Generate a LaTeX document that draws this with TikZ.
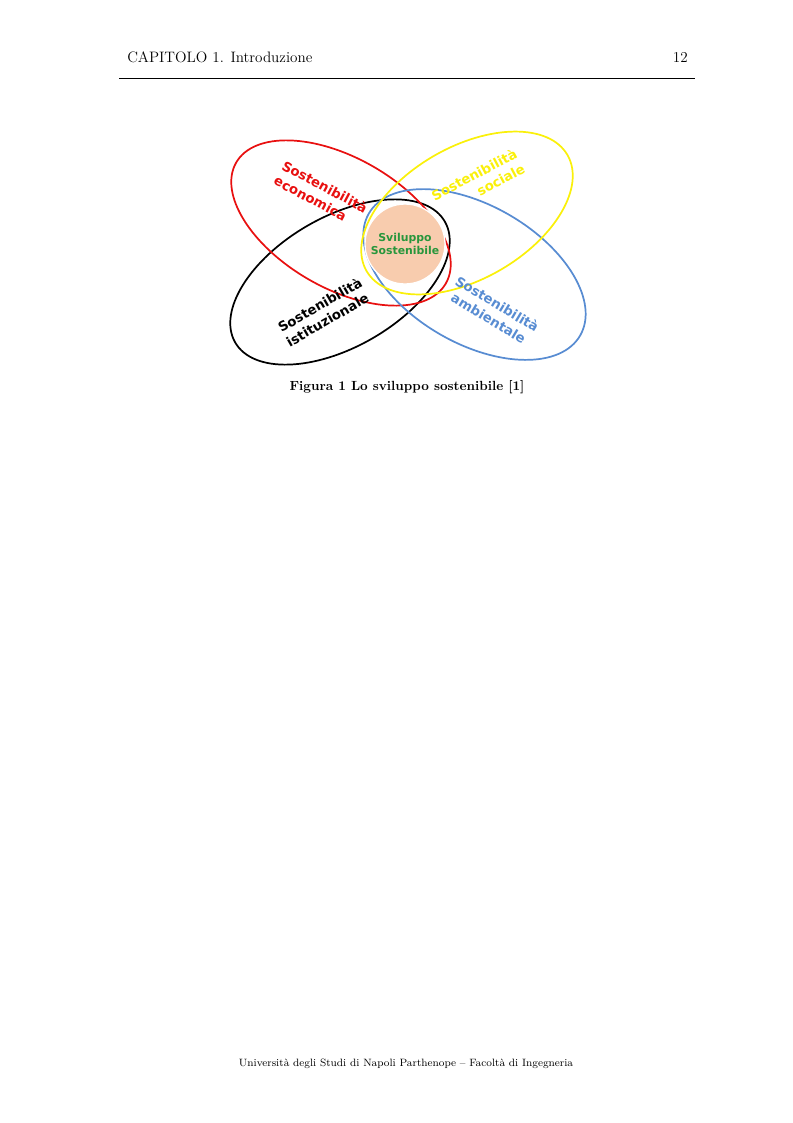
\documentclass[tikz,border=0pt]{standalone}
\usepackage{fontspec}
\usepackage{tikz}
\usetikzlibrary{positioning}
\newfontfamily\verdfont{DejaVu Sans}

\definecolor{ecored}{RGB}{232,16,16}
\definecolor{socyellow}{RGB}{250,240,10}
\definecolor{ambblue}{RGB}{88,140,210}
\definecolor{peach}{RGB}{248,204,174}
\definecolor{svgreen}{RGB}{40,150,60}

\tikzset{
  ring/.style={line width=1.3pt},
  lbl/.style={font=\verdfont\bfseries\fontsize{10}{12.6}\selectfont, inner sep=0pt},
  pagetext/.style={inner sep=0pt}
}

\begin{document}
\begin{tikzpicture}[x=0.0264817cm, y=-0.0264817cm]
        \useasboundingbox (0,0) rectangle (793,1123);
        % Header
        \node[pagetext, anchor=base west, font=\fontsize{11.4}{14}\selectfont] (capo) at (127,62) {CAPITOLO 1. Introduzione};
        \node[pagetext, anchor=base east, font=\fontsize{11.4}{14}\selectfont] (pagina) at (688,62) {12};
        \draw[line width=0.5pt] (119,78) -- (695,78);
        % Ellipses
        \draw[ring, black, rotate around={30:(340,282)}] (340,282) ellipse [x radius=121, y radius=65];
        \draw[ring, ecored, rotate around={-30:(341,223)}] (341,223) ellipse [x radius=121, y radius=65];
        \draw[ring, ambblue, rotate around={-30:(474.5,274.5)}] (474.5,274.5) ellipse [x radius=122, y radius=69];
        \draw[ring, socyellow, rotate around={30:(467,213)}] (467,213) ellipse [x radius=116, y radius=66];
        % Centre
        \node[circle, fill=peach, draw=white, line width=1pt, minimum size=80*0.0264817cm, inner sep=0pt,
              font=\verdfont\bfseries\fontsize{8.2}{10}\selectfont, text=svgreen, align=center] (sviluppo) at (405,244) {Sviluppo\\Sostenibile};
        % Labels
        \node[lbl, text=ecored, rotate=-28, align=left] (economica) at (321,194) {Sostenibilità\\economica};
        \node[lbl, text=socyellow, rotate=28, align=right] (sociale) at (478,182) {Sostenibilità\\sociale};
        \node[lbl, text=black, rotate=30, align=left] (istituzionale) at (324,312) {Sostenibilità\\istituzionale};
        \node[lbl, text=ambblue, rotate=-31, align=center] (ambientale) at (493,311) {Sostenibilità\\ambientale};
        % Caption and footer
        \node[pagetext, anchor=base, font=\bfseries\fontsize{10}{12}\selectfont] (didascalia) at (407,390) {Figura 1 Lo sviluppo sostenibile [1]};
        \node[pagetext, anchor=base, font=\fontsize{8}{10}\selectfont] (piede) at (406,1066) {Università degli Studi di Napoli Parthenope -- Facoltà di Ingegneria};
    \end{tikzpicture}
\end{document}
